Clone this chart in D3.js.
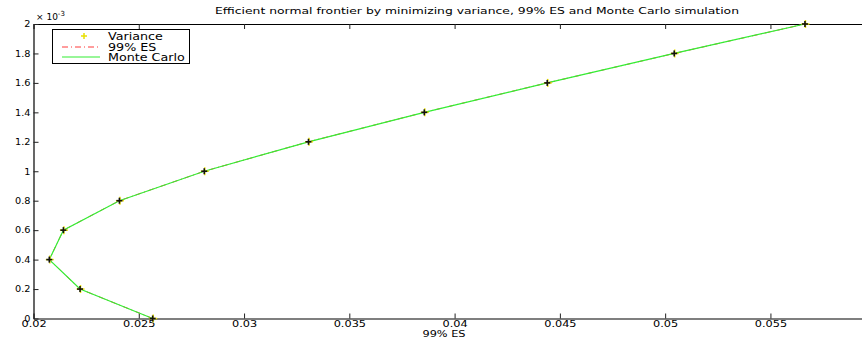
<!DOCTYPE html>
<html><head><meta charset="utf-8">
<script src="https://cdn.jsdelivr.net/npm/d3@7"></script>
<style>body{margin:0;background:#fff}svg{display:block;font-family:"DejaVu Sans",sans-serif}</style>
</head><body><svg id="c" width="862" height="337"></svg>
<script>
const retScaled = [0, 0.2, 0.4, 0.6, 0.8, 1.0, 1.2, 1.4, 1.6, 1.8, 2.0]; // ×1e-3
const esVariance = [0.02566, 0.02221, 0.02075, 0.02142, 0.02408, 0.02811, 0.03306, 0.03856, 0.04440, 0.05043, 0.05664];
const esES = [0.02566, 0.02221, 0.02075, 0.02142, 0.02408, 0.02811, 0.03306, 0.03856, 0.04440, 0.05043, 0.05664];
const esMC = [0.02566, 0.02221, 0.02075, 0.02142, 0.02408, 0.02811, 0.03306, 0.03856, 0.04440, 0.05043, 0.05664];
const xTicks = [0.02, 0.025, 0.03, 0.035, 0.04, 0.045, 0.05, 0.055];
const yTicks = [0, 0.2, 0.4, 0.6, 0.8, 1, 1.2, 1.4, 1.6, 1.8, 2];
const legendLabels = ["Variance", "99% ES", "Monte Carlo"];

const svg = d3.select("#c");
const L = 33.5, R = 875.7, T = 24, B = 318.5;
const x = d3.scaleLinear().domain([0.02, 0.06]).range([L, R]);
const y = d3.scaleLinear().domain([0, 2]).range([B, T]);

const fmtX = d => String(+d.toFixed(3));
const fmtY = d => String(+d.toFixed(1));
const stretch = (sel, f) => sel.each(function () {
  const w = this.getComputedTextLength();
  if (w > 0) d3.select(this).attr("textLength", w * f).attr("lengthAdjust", "spacingAndGlyphs");
});

// axes
const gx = svg.append("g").attr("transform", `translate(0,${B})`)
  .call(d3.axisBottom(x).tickValues(xTicks).tickSizeInner(-5).tickSizeOuter(0).tickPadding(2).tickFormat(fmtX));
svg.append("g").attr("transform", `translate(0,${T})`)
  .call(d3.axisTop(x).tickValues(xTicks).tickSizeInner(-5).tickSizeOuter(0).tickFormat(""));
const gy = svg.append("g").attr("transform", `translate(${L},0)`)
  .call(d3.axisLeft(y).tickValues(yTicks).tickSizeInner(-5).tickSizeOuter(0).tickPadding(3).tickFormat(fmtY));
svg.append("g").attr("transform", `translate(${R},0)`)
  .call(d3.axisRight(y).tickValues(yTicks).tickSizeInner(-5).tickSizeOuter(0).tickFormat(""));
svg.selectAll(".domain").attr("stroke", "#000").attr("stroke-width", 1.2);
svg.selectAll(".tick line").attr("stroke", "#222");
svg.selectAll(".tick text").attr("fill", "#000").attr("font-family", "DejaVu Sans, sans-serif").attr("font-size", 8.7);
stretch(gx.selectAll(".tick text"), 1.3);
stretch(gy.selectAll(".tick text"), 1.12);

// exponent
const ex = svg.append("text").attr("x", 36).attr("y", 20).attr("font-size", 9);
ex.append("tspan").text("× 10");
ex.append("tspan").attr("dy", -4).attr("font-size", 7).text("-3");

// title and x label
svg.append("text").attr("x", 477).attr("y", 14).attr("text-anchor", "middle").attr("font-size", 9)
  .attr("textLength", 524).attr("lengthAdjust", "spacingAndGlyphs")
  .text("Efficient normal frontier by minimizing variance, 99% ES and Monte Carlo simulation");
const xl = svg.append("text").attr("x", 444).attr("y", 336.5).attr("text-anchor", "middle").attr("font-size", 8.7)
  .text("99% ES");
stretch(xl, 1.3);

const line = arr => d3.line().x(d => x(d)).y((d, i) => y(retScaled[i]))(arr);
svg.append("path").attr("d", line(esES)).attr("fill", "none").attr("stroke", "#ff3b3b").attr("stroke-width", 1).attr("stroke-dasharray", "6,3,1,3");
svg.append("path").attr("d", line(esMC)).attr("fill", "none").attr("stroke", "#33ee33").attr("stroke-width", 1.2);

const plus = (g, cx, cy, s, col, w) => {
  g.append("line").attr("x1", cx - s).attr("x2", cx + s).attr("y1", cy).attr("y2", cy).attr("stroke", col).attr("stroke-width", w);
  g.append("line").attr("x1", cx).attr("x2", cx).attr("y1", cy - s).attr("y2", cy + s).attr("stroke", col).attr("stroke-width", w);
};
const mk = svg.append("g");
esVariance.forEach((d, i) => plus(mk, x(d) + 0.5, y(retScaled[i]), 4, "#e8e000", 1.5));
esVariance.forEach((d, i) => plus(mk, x(d), y(retScaled[i]), 3, "#111", 1.6));

// legend
const lg = svg.append("g").attr("font-size", 10);
lg.append("rect").attr("x", 52.5).attr("y", 29.5).attr("width", 137).attr("height", 34).attr("fill", "#fff").attr("stroke", "#000");
plus(lg, 84, 36, 3, "#e8e000", 1.5);
lg.append("line").attr("x1", 62).attr("x2", 100).attr("y1", 47).attr("y2", 47).attr("stroke", "#ff3b3b").attr("stroke-dasharray", "6,3,1,3");
lg.append("line").attr("x1", 62).attr("x2", 100).attr("y1", 57).attr("y2", 57).attr("stroke", "#33ee33").attr("stroke-width", 1.2);
legendLabels.forEach((t, i) => lg.append("text").attr("x", 108).attr("y", 40 + i * 10.5).text(t));
stretch(lg.selectAll("text"), 1.27);
</script></body></html>
